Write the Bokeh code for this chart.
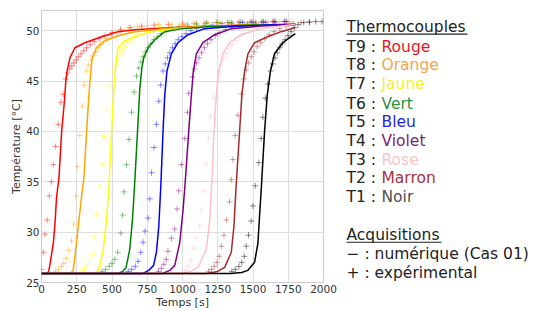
from bokeh.plotting import figure
from bokeh.layouts import row
from bokeh.models import ColumnDataSource, Range1d, FixedTicker
from bokeh.embed import file_html
from bokeh.resources import INLINE
from bokeh.core.properties import value

# ---------------- data ----------------
thermo_ids = ["T9", "T8", "T7", "T6", "T5", "T4", "T3", "T2", "T1"]
color_names = ["Rouge", "Orange", "Jaune", "Vert", "Bleu", "Violet", "Rose", "Marron", "Noir"]
line_colors = ["#ff0000", "#ffa500", "#ffff00", "#008000", "#0000ff", "#800080", "#ffc0cb", "#a52a2a", "#000000"]
text_colors = ["#e8161e", "#f2a64a", "#f4f02c", "#2f8f3a", "#2424e0", "#7a1c7a", "#f6c6cc", "#a2343a", "#505050"]

x_ticks = [0, 250, 500, 750, 1000, 1250, 1500, 1750, 2000]
y_ticks = [25, 30, 35, 40, 45, 50]

# numerical (Cas 01) curves: time [s], temperature [°C]
num_t_T9 = [0, 45, 52, 60, 84, 96, 107, 124, 143, 162, 172, 182, 202, 237, 308, 426, 544, 662, 900, 1200, 1500, 1800]
num_y_T9 = [25.9, 25.9, 26.2, 26.8, 28.9, 30.9, 33.5, 35.4, 40.0, 42.9, 44.9, 46.0, 47.3, 48.3, 48.8, 49.4, 49.9, 50.1, 50.3, 50.45, 50.55, 50.6]
num_t_T8 = [0, 205, 225, 237, 261, 284, 301, 320, 336, 350, 360, 390, 449, 544, 662, 900, 1200, 1500, 1800]
num_y_T8 = [25.9, 25.9, 26.2, 27.6, 30.6, 33.5, 35.4, 40.0, 43.6, 46.0, 47.3, 48.3, 49.0, 49.5, 49.9, 50.25, 50.45, 50.55, 50.6]
num_t_T7 = [0, 370, 395, 414, 438, 461, 478, 497, 513, 527, 544, 591, 662, 780, 1000, 1300, 1600, 1800]
num_y_T7 = [25.9, 25.9, 26.1, 26.7, 28.3, 31.2, 34.3, 40.0, 44.2, 46.6, 48.3, 49.0, 49.4, 49.9, 50.25, 50.45, 50.55, 50.6]
num_t_T6 = [0, 545, 575, 600, 626, 645, 660, 681, 697, 712, 725, 756, 803, 874, 992, 1200, 1500, 1800]
num_y_T6 = [25.9, 25.9, 26.1, 26.5, 28.3, 31.2, 34.6, 40.0, 44.2, 46.3, 47.3, 48.3, 49.1, 49.9, 50.2, 50.4, 50.55, 50.6]
num_t_T5 = [0, 720, 760, 795, 815, 832, 846, 862, 874, 890, 921, 968, 1039, 1157, 1346, 1600, 1800]
num_y_T5 = [25.9, 25.9, 26.2, 26.7, 28.0, 30.6, 34.5, 40.0, 43.6, 46.0, 47.7, 48.8, 49.6, 50.2, 50.4, 50.55, 50.6]
num_t_T4 = [0, 860, 910, 945, 980, 1004, 1022, 1044, 1063, 1077, 1098, 1145, 1228, 1346, 1550, 1800]
num_y_T4 = [25.9, 25.9, 26.2, 26.7, 28.9, 32.2, 35.5, 40.0, 43.6, 46.0, 47.7, 48.8, 49.6, 50.2, 50.45, 50.6]
num_t_T3 = [0, 980, 1060, 1110, 1169, 1193, 1208, 1223, 1240, 1258, 1287, 1334, 1417, 1558, 1700, 1800]
num_y_T3 = [25.9, 25.9, 26.1, 26.5, 28.3, 31.2, 34.8, 40.0, 43.6, 46.0, 47.7, 48.8, 49.6, 50.2, 50.45, 50.6]
num_t_T2 = [0, 1170, 1250, 1299, 1346, 1365, 1380, 1405, 1421, 1440, 1464, 1511, 1605, 1700, 1800]
num_y_T2 = [25.9, 25.9, 26.1, 26.5, 28.0, 30.6, 34.5, 40.0, 43.6, 45.9, 47.7, 48.8, 49.4, 49.9, 50.3]
num_t_T1 = [0, 1340, 1420, 1463, 1511, 1535, 1546, 1560, 1582, 1601, 1624, 1652, 1711, 1760, 1800]
num_y_T1 = [25.9, 25.9, 26.0, 26.2, 27.0, 28.9, 31.5, 34.6, 40.0, 43.6, 46.0, 47.7, 48.8, 49.3, 49.7]

# experimental acquisitions: time [s], temperature [°C]
exp_t_T9 = [0, 13, 25, 40, 55, 70, 84, 100, 119, 138, 154, 171, 185, 200, 215, 230, 245, 260, 280, 300, 320, 345, 375, 410, 450, 500, 560, 630, 710, 800, 900, 1000, 1080, 1160, 1240, 1320, 1400, 1480, 1560, 1640, 1720]
exp_y_T9 = [26.3, 28.0, 29.8, 31.2, 33.6, 35.0, 36.7, 38.5, 40.7, 42.9, 43.7, 45.2, 45.8, 46.2, 46.5, 46.8, 47.1, 47.4, 47.7, 48.0, 48.3, 48.6, 48.9, 49.2, 49.5, 49.8, 50.1, 50.3, 50.45, 50.55, 50.6, 50.65, 50.7, 50.75, 50.8, 50.8, 50.85, 50.85, 50.85, 50.9, 50.9]
exp_t_T8 = [100, 120, 140, 158, 175, 190, 213, 230, 244, 256, 272, 289, 303, 320, 336, 352, 368, 385, 402, 420, 440, 465, 495, 530, 570, 620, 680, 750, 830, 920, 1010, 1095, 1180, 1265, 1350, 1435, 1520, 1605, 1690, 1770]
exp_y_T8 = [26.1, 26.3, 26.6, 26.9, 27.4, 28.2, 29.1, 30.8, 33.6, 36.5, 39.6, 42.5, 44.6, 46.0, 46.6, 47.1, 47.5, 47.9, 48.3, 48.6, 48.9, 49.2, 49.5, 49.8, 50.05, 50.25, 50.4, 50.5, 50.6, 50.65, 50.7, 50.75, 50.8, 50.8, 50.85, 50.85, 50.85, 50.9, 50.9, 50.9]
exp_t_T7 = [285, 305, 325, 342, 360, 375, 390, 414, 430, 445, 456, 480, 508, 525, 540, 556, 572, 590, 610, 632, 658, 690, 730, 780, 840, 910, 990, 1080, 1165, 1250, 1335, 1420, 1505, 1590, 1675, 1760]
exp_y_T7 = [26.2, 26.4, 26.7, 27.1, 27.8, 29.5, 31.8, 34.5, 36.7, 39.5, 42.2, 44.5, 46.0, 46.6, 47.1, 47.6, 48.0, 48.4, 48.8, 49.1, 49.4, 49.7, 50.0, 50.25, 50.4, 50.55, 50.65, 50.7, 50.75, 50.8, 50.8, 50.85, 50.85, 50.9, 50.9, 50.9]
exp_t_T6 = [430, 455, 480, 500, 520, 540, 563, 575, 586, 603, 621, 638, 657, 674, 690, 705, 720, 737, 755, 775, 797, 822, 850, 885, 925, 975, 1035, 1100, 1170, 1250, 1330, 1410, 1490, 1570, 1650, 1735]
exp_y_T6 = [26.1, 26.3, 26.6, 26.9, 27.3, 28.0, 29.9, 31.7, 34.0, 36.7, 39.2, 41.9, 43.9, 45.5, 46.3, 46.9, 47.4, 47.9, 48.3, 48.7, 49.1, 49.4, 49.7, 50.0, 50.2, 50.4, 50.55, 50.65, 50.75, 50.8, 50.8, 50.85, 50.85, 50.9, 50.9, 50.9]
exp_t_T5 = [615, 640, 665, 685, 704, 720, 735, 756, 768, 780, 798, 815, 832, 846, 862, 878, 893, 910, 928, 948, 970, 995, 1025, 1060, 1100, 1150, 1210, 1280, 1350, 1425, 1500, 1575, 1650, 1725]
exp_y_T5 = [26.1, 26.3, 26.6, 27.1, 28.0, 29.0, 30.1, 31.4, 33.3, 35.9, 38.4, 40.7, 43.0, 44.6, 46.0, 46.7, 47.3, 47.8, 48.3, 48.7, 49.1, 49.4, 49.7, 50.0, 50.2, 50.4, 50.55, 50.7, 50.75, 50.8, 50.85, 50.85, 50.9, 50.9]
exp_t_T4 = [830, 850, 868, 885, 897, 921, 945, 961, 973, 992, 1016, 1035, 1044, 1070, 1085, 1100, 1117, 1135, 1155, 1178, 1203, 1232, 1265, 1305, 1350, 1400, 1460, 1520, 1590, 1660, 1740]
exp_y_T4 = [26.1, 26.4, 26.8, 27.3, 28.1, 29.4, 30.3, 32.3, 34.1, 36.7, 39.3, 41.9, 43.8, 45.4, 46.2, 46.8, 47.3, 47.8, 48.3, 48.7, 49.1, 49.5, 49.8, 50.1, 50.3, 50.5, 50.65, 50.75, 50.8, 50.85, 50.9]
exp_t_T3 = [1020, 1040, 1060, 1081, 1098, 1122, 1134, 1157, 1169, 1185, 1200, 1223, 1240, 1258, 1275, 1292, 1310, 1330, 1352, 1377, 1405, 1437, 1475, 1520, 1570, 1630, 1690, 1750]
exp_y_T3 = [26.2, 26.6, 27.2, 28.4, 29.4, 30.6, 32.2, 34.1, 36.7, 39.3, 41.5, 43.3, 44.9, 45.9, 46.6, 47.2, 47.7, 48.2, 48.6, 49.0, 49.4, 49.7, 50.0, 50.2, 50.4, 50.6, 50.7, 50.8]
exp_t_T2 = [1185, 1205, 1225, 1245, 1260, 1275, 1294, 1311, 1334, 1346, 1357, 1374, 1393, 1417, 1435, 1452, 1470, 1488, 1508, 1530, 1555, 1583, 1615, 1650, 1690, 1735, 1785, 1840, 1900]
exp_y_T2 = [26.1, 26.3, 26.6, 27.0, 27.6, 28.6, 29.7, 31.2, 33.0, 35.2, 37.2, 39.6, 41.6, 43.7, 45.2, 46.1, 46.8, 47.4, 47.9, 48.4, 48.8, 49.2, 49.6, 49.9, 50.2, 50.45, 50.65, 50.8, 50.85]
exp_t_T1 = [1350, 1375, 1400, 1420, 1438, 1452, 1468, 1487, 1499, 1516, 1541, 1558, 1570, 1587, 1605, 1624, 1640, 1656, 1672, 1690, 1708, 1727, 1748, 1770, 1795, 1820, 1860, 1900, 1945, 1990]
exp_y_T1 = [26.1, 26.3, 26.6, 27.0, 27.6, 28.6, 29.7, 31.1, 32.6, 34.6, 36.9, 39.3, 41.4, 43.3, 44.7, 46.0, 46.7, 47.3, 47.8, 48.3, 48.7, 49.1, 49.5, 49.9, 50.3, 50.6, 50.8, 50.85, 50.9, 50.9]

num_t = [num_t_T9, num_t_T8, num_t_T7, num_t_T6, num_t_T5, num_t_T4, num_t_T3, num_t_T2, num_t_T1]
num_y = [num_y_T9, num_y_T8, num_y_T7, num_y_T6, num_y_T5, num_y_T4, num_y_T3, num_y_T2, num_y_T1]
exp_t = [exp_t_T9, exp_t_T8, exp_t_T7, exp_t_T6, exp_t_T5, exp_t_T4, exp_t_T3, exp_t_T2, exp_t_T1]
exp_y = [exp_y_T9, exp_y_T8, exp_y_T7, exp_y_T6, exp_y_T5, exp_y_T4, exp_y_T3, exp_y_T2, exp_y_T1]

FONT = "DejaVu Sans"
TOP, BOTTOM = 10, 24

# ---------------- main plot ----------------
p = figure(width=338, height=311, output_backend="svg", toolbar_location=None,
           x_range=Range1d(0, 2000), y_range=Range1d(25, 52),
           min_border_left=41, min_border_right=15, min_border_top=TOP, min_border_bottom=BOTTOM)
p.background_fill_color = "white"
p.border_fill_color = "white"
p.outline_line_color = "#cccccc"
p.outline_line_width = 1

for i in range(len(thermo_ids)):
    src_e = ColumnDataSource(dict(t=exp_t[i], y=exp_y[i]))
    p.scatter("t", "y", source=src_e, marker="cross", size=6, line_width=1,
              line_color=line_colors[i], line_alpha=0.45)
for i in range(len(thermo_ids)):
    src_n = ColumnDataSource(dict(t=num_t[i], y=num_y[i]))
    p.line("t", "y", source=src_n, line_color=line_colors[i], line_width=1.5)

p.xaxis.ticker = FixedTicker(ticks=x_ticks)
p.yaxis.ticker = FixedTicker(ticks=y_ticks)
for ax in (p.xaxis[0], p.yaxis[0]):
    ax.axis_line_color = None
    ax.major_tick_line_color = None
    ax.minor_tick_line_color = None
    ax.major_tick_out = 0
    ax.major_tick_in = 0
    ax.major_label_text_font = FONT
    ax.major_label_text_font_size = "10.5px"
    ax.major_label_text_color = "#333333"
    ax.axis_label_text_font = FONT
    ax.axis_label_text_font_size = "11px"
    ax.axis_label_text_font_style = "normal"
    ax.axis_label_text_color = "#333333"
    ax.major_label_standoff = 2
    ax.axis_label_standoff = 0
p.xaxis.axis_label = "Temps [s]"
p.yaxis.axis_label = "Température [°C]"
p.xgrid.grid_line_color = "#dddddd"
p.ygrid.grid_line_color = "#dddddd"

# ---------------- legend panel (ranges in page pixels) ----------------
lg = figure(width=200, height=311, output_backend="svg", toolbar_location=None,
            x_range=Range1d(338, 538), y_range=Range1d(311 - BOTTOM, TOP),
            min_border_left=0, min_border_right=0, min_border_top=TOP, min_border_bottom=BOTTOM)
lg.axis.visible = False
lg.grid.visible = False
lg.outline_line_color = None
lg.background_fill_color = "white"
lg.border_fill_color = "white"

legend_x = 346
name_x = 381
title_y = [27, 239]
titles = ["Thermocouples", "Acquisitions"]
row_y = [47, 66, 85, 105, 124, 143, 162, 181, 200]
acq_y = [258, 277]
acq_texts = ["\u2212 : numérique (Cas 01)", "+ : expérimental"]
underline_len = [121, 95]

common = dict(text_font=value(FONT), text_font_size="15.5px", text_baseline="middle", text_align="left")
lg.text(x=[legend_x] * 2, y=title_y, text=titles, text_color="#222222", **common)
lg.segment(x0=[legend_x] * 2, y0=[t + 7 for t in title_y],
           x1=[legend_x + u for u in underline_len], y1=[t + 7 for t in title_y],
           line_color="#222222", line_width=1.2)
lg.text(x=[legend_x] * len(thermo_ids), y=row_y, text=[tid + " :" for tid in thermo_ids],
        text_color="#222222", **common)
lg.text(x=[name_x] * len(color_names), y=row_y, text=color_names, text_color=text_colors, **common)
lg.text(x=[legend_x] * 2, y=acq_y, text=acq_texts, text_color="#222222", **common)

layout = row(p, lg)
open("out.html", "w").write(file_html(layout, INLINE))
